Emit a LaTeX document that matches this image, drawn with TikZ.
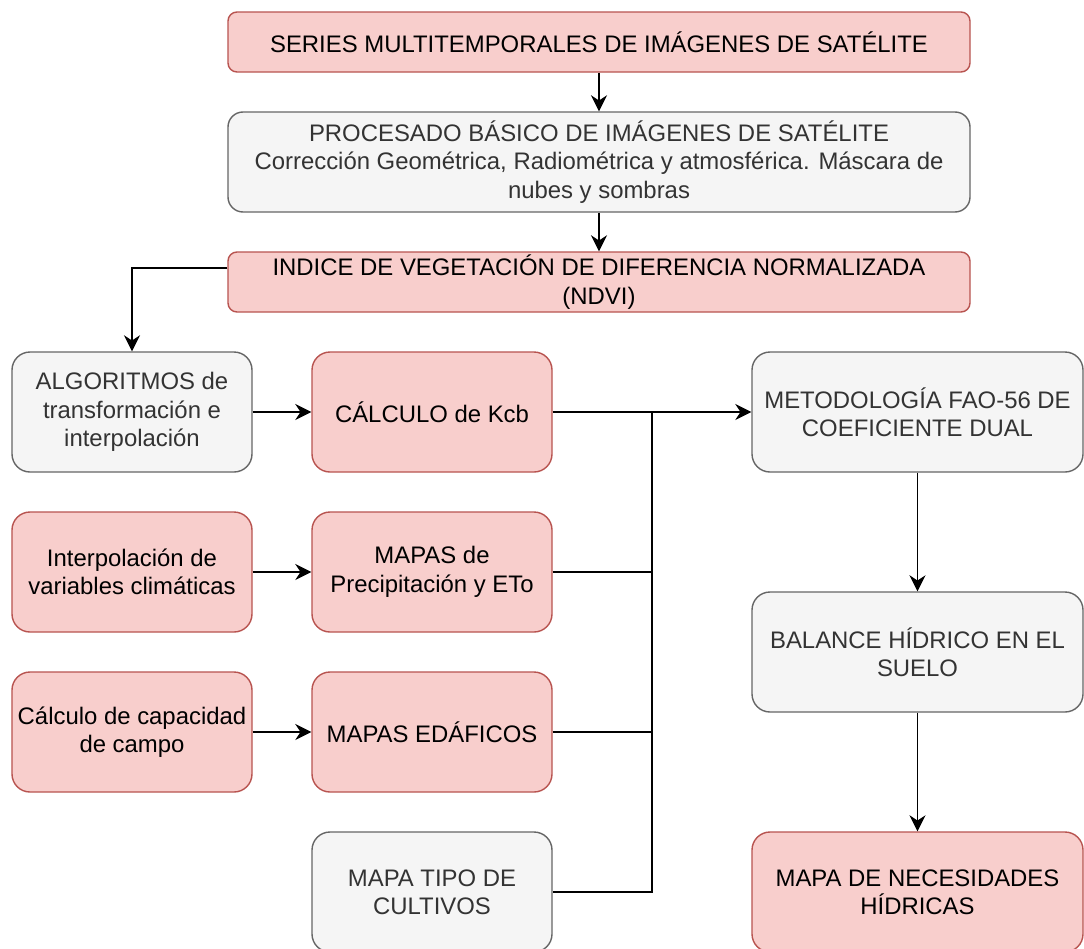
\documentclass[tikz,border=0pt]{standalone}
\usepackage{fontspec}
\setmainfont{Liberation Sans}
\usetikzlibrary{arrows.meta}
\definecolor{pinkfill}{HTML}{F8CECC}
\definecolor{pinkline}{HTML}{B85450}
\definecolor{grayfill}{HTML}{F5F5F5}
\definecolor{grayline}{HTML}{666666}
\definecolor{graytext}{HTML}{333333}

\begin{document}
\begin{tikzpicture}[
                > = {Stealth[length=3.2mm, width=3.2mm]}, % arrow head style
                node distance = 3.2cm, % distance between rows
                font = \fontsize{13.6}{16.2}\selectfont,
                line width = 0.8pt
        ]

        \tikzstyle{pinkbox}=[
            draw = pinkline,
            fill = pinkfill,
            text = black,
            align = center,
            inner sep = 0pt,
            rounded corners = 0.36cm,
            minimum width = 4.8cm,
            minimum height = 2.4cm
        ]
        \tikzstyle{graybox}=[pinkbox, draw = grayline, fill = grayfill, text = graytext]
        \tikzstyle{widebox}=[minimum width = 14.84cm, minimum height = 1.2cm, rounded corners = 0.18cm]
        \tikzstyle{link}=[black, line width = 0.95pt]

        \useasboundingbox (0,0) rectangle (21.68,-18.96);
        \fill[white] (0,0) rectangle (21.68,-18.96);
        \clip (0,0) rectangle (21.68,-18.96);

        % top chain
        \node[pinkbox, widebox] (series) at (11.98,-0.84) {SERIES MULTITEMPORALES DE IMÁGENES DE SATÉLITE};
        \node[graybox, widebox, minimum height = 2cm, rounded corners = 0.3cm, node distance = 2.4cm] (proc) [below of=series] {PROCESADO BÁSICO DE IMÁGENES DE SATÉLITE\\ Corrección Geométrica, Radiométrica y atmosférica. Máscara de\\ nubes y sombras};
        \node[pinkbox, widebox, node distance = 2.4cm] (ndvi) [below of=proc] {INDICE DE VEGETACIÓN DE DIFERENCIA NORMALIZADA\\ (NDVI)};

        % left columns
        \node[graybox] (algo) at (2.64,-8.24) {ALGORITMOS de\\ transformación e\\ interpolación};
        \node[pinkbox, node distance = 6cm] (kcb) [right of=algo] {CÁLCULO de Kcb};
        \node[pinkbox] (interp) [below of=algo] {Interpolación de\\ variables climáticas};
        \node[pinkbox, node distance = 6cm] (meteo) [right of=interp] {MAPAS de\\ Precipitación y ETo};
        \node[pinkbox] (capac) [below of=interp] {Cálculo de capacidad\\ de campo};
        \node[pinkbox, node distance = 6cm] (edaf) [right of=capac] {MAPAS EDÁFICOS};
        \node[graybox] (cult) [below of=edaf] {MAPA TIPO DE\\ CULTIVOS};

        % right column
        \node[graybox, minimum width = 6.62cm, node distance = 9.71cm] (fao) [right of=kcb] {METODOLOGÍA FAO-56 DE\\ COEFICIENTE DUAL};
        \node[graybox, minimum width = 6.62cm, node distance = 4.8cm] (suelo) [below of=fao] {BALANCE HÍDRICO EN EL\\ SUELO};
        \node[pinkbox, minimum width = 6.62cm, node distance = 4.8cm] (needs) [below of=suelo] {MAPA DE NECESIDADES\\ HÍDRICAS};

        \coordinate (merge) at (13.04,-8.24);

        \draw[link, ->] (series) -- (proc);
        \draw[link, ->] (proc) -- (ndvi);
        \draw[link, ->] ([yshift=0.28cm]ndvi.west) -| (algo.north);
        \draw[link, ->] (algo) -- (kcb);
        \draw[link, ->] (interp) -- (meteo);
        \draw[link, ->] (capac) -- (edaf);
        \draw[link, ->] (kcb) -- (fao);
        \draw[link] (merge) |- (cult.east);
        \draw[link] (meteo) -- (meteo -| merge);
        \draw[link] (edaf) -- (edaf -| merge);
        \draw[link, ->] (fao) -- (suelo);
        \draw[link, ->] (suelo) -- (needs);

\end{tikzpicture}
\end{document}
